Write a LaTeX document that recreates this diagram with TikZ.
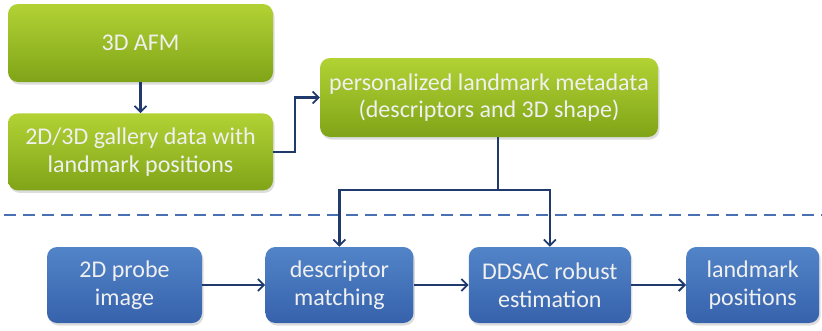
\documentclass[tikz,border=0pt]{standalone}
\usepackage{fontspec}
\setmainfont{Carlito}
\usepackage{tikz}
\usetikzlibrary{positioning, arrows.meta, calc, shadows}
\definecolor{galltop}{RGB}{178,210,52}
\definecolor{gallbot}{RGB}{128,164,24}
\definecolor{probetop}{RGB}{82,132,200}
\definecolor{probebot}{RGB}{54,98,172}
\definecolor{wire}{RGB}{32,58,110}
\definecolor{sepline}{RGB}{72,112,178}
\tikzset{
    box/.style={rectangle, rounded corners=10pt, align=center, text=white!94!black,
      font=\fontsize{24}{27.5}\selectfont, inner sep=0pt,
      drop shadow={shadow xshift=1.5pt, shadow yshift=-2.5pt, opacity=0.22, fill=black!60}},
    gbox/.style={box, top color=galltop, bottom color=gallbot},
    bbox/.style={box, top color=probetop, bottom color=probebot, minimum height=76pt},
    wireline/.style={draw=wire, line width=2.3pt},
    >={Straight Barb[length=6pt, width=12pt, line width=1.8pt]},
}

\begin{document}
\begin{tikzpicture}[x=1pt, y=-1pt]
    \useasboundingbox (0,0) rectangle (822,330);

    % model side
    \node[gbox, minimum width=265pt, minimum height=78pt] (afm) at (140.5,43) {3D AFM};
    \node[gbox, minimum width=265pt, minimum height=77pt, below=31pt of afm] (gallery)
      {2D/3D gallery data with\\landmark positions};
    \node[gbox, minimum width=338pt, minimum height=79pt] (meta) at (489,97.5)
      {personalized landmark metadata\\(descriptors and 3D shape)};

    % separator
    \draw[sepline, line width=2pt, dash pattern=on 12pt off 7pt] (4,215) -- (822,215);

    % probe side
    \node[bbox, minimum width=155pt] (probe) at (124.5,285) {2D probe\\image};
    \node[bbox, minimum width=148pt, right=63pt of probe] (match) {descriptor\\matching};
    \node[bbox, minimum width=162pt, right=55pt of match] (ddsac) {DDSAC robust\\estimation};
    \node[bbox, minimum width=133pt, right=55pt of ddsac] (lmpos) {landmark\\positions};

    \coordinate (fork) at ($(meta.south)+(9,53)$);

    \draw[wireline, ->] (afm) -- (gallery);
    \draw[wireline, ->] (gallery.east) -- ++(22,0) |- (meta.west);
    \draw[wireline] ($(meta.south)+(9,0)$) -- (fork);
    \draw[wireline, ->] (fork) -| (match.north);
    \draw[wireline, ->] (fork) -| (ddsac.north);
    \draw[wireline, ->] (probe) -- (match);
    \draw[wireline, ->] (match) -- (ddsac);
    \draw[wireline, ->] (ddsac) -- (lmpos);
\end{tikzpicture}
\end{document}
